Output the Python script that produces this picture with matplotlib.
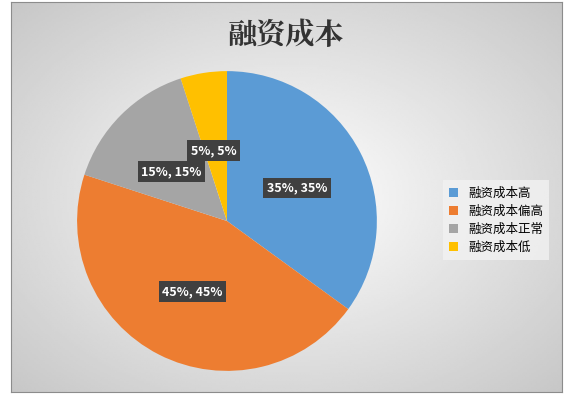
import numpy as np
import matplotlib.pyplot as plt

plt.rcParams['font.family'] = ['Noto Sans CJK SC', 'DejaVu Sans']

categories = ['融资成本高', '融资成本偏高', '融资成本正常', '融资成本低']
values = [35, 45, 15, 5]
colors = ['#5b9bd5', '#ed7d31', '#a5a5a5', '#ffc000']

fig = plt.figure(figsize=(5.71, 4), dpi=100)

# gradient background
bg = fig.add_axes([0.02, 0.02, 0.965, 0.975])
yy, xx = np.mgrid[-1:1:200j, -1:1:300j]
r = np.sqrt(xx**2 + yy**2) / np.sqrt(2)
bg.imshow(1 - 0.22 * r, cmap='gray', vmin=0, vmax=1, extent=[0, 1, 0, 1], aspect='auto')
bg.set_xticks([]); bg.set_yticks([])
for s in bg.spines.values():
    s.set_color('#8c8c8c')

fig.text(0.5, 0.91, '融资成本', ha='center', va='center', fontsize=21, fontweight='bold',
         family=['Noto Serif CJK SC', 'Noto Sans CJK SC'], color='#333333')

ax = fig.add_axes([0.135, 0.0725, 0.525, 0.75])
wedges, _ = ax.pie(values, colors=colors, startangle=90, counterclock=False)
ax.set_xlim(-1, 1); ax.set_ylim(-1, 1)
ax.set_aspect('equal')

label_pos = [(0.47, 0.22), (-0.23, -0.47), (-0.37, 0.33), (-0.09, 0.47)]
for v, (x, y) in zip(values, label_pos):
    ax.text(x, y, f'{v}%, {v}%', ha='center', va='center', color='white',
            fontsize=9, fontweight='bold',
            bbox=dict(boxstyle='square,pad=0.3', fc='#404040', ec='none'))

leg = fig.legend(wedges, categories, loc='center left', bbox_to_anchor=(0.765, 0.45),
                 fontsize=9, frameon=True, handlelength=0.7, handleheight=0.7,
                 labelspacing=0.4, borderpad=0.5, fancybox=False)
leg.get_frame().set_facecolor('#f2f2f2')
leg.get_frame().set_edgecolor('none')

fig.savefig('out.png', dpi=100)
